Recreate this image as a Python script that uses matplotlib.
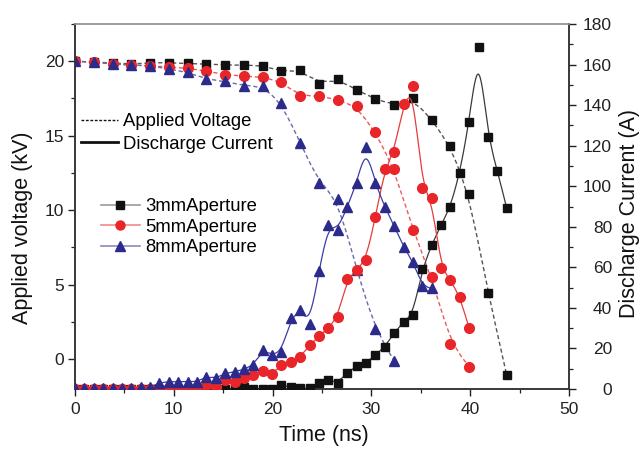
import numpy as np
import matplotlib
matplotlib.use("Agg")
import matplotlib.pyplot as plt
from matplotlib.lines import Line2D
from matplotlib.ticker import MultipleLocator

plt.rcParams['font.family'] = ['Liberation Sans', 'DejaVu Sans']

# ---------------- data ----------------
t_cur = [0.0, 0.95, 1.9, 2.85, 3.8, 4.75, 5.7, 6.65, 7.6, 8.55, 9.5, 10.45, 11.4, 12.35,
         13.3, 14.25, 15.2, 16.15, 17.1, 18.05, 19.0, 19.95, 20.9, 21.85, 22.8, 23.75,
         24.7, 25.65, 26.6, 27.55, 28.5, 29.45, 30.4, 31.35, 32.3, 33.25, 34.2, 35.15,
         36.1, 37.05, 38.0, 38.95, 39.9, 40.85, 41.8, 42.75, 43.7]
t_volt = [0.0, 1.9, 3.8, 5.7, 7.6, 9.5, 11.4, 13.3, 15.2, 17.1, 19.0, 20.9, 22.8, 24.7,
          26.6, 28.5, 30.4, 32.3, 34.2, 36.1, 38.0, 39.9, 41.8, 43.7]

cur_3mm = [0, 0, 0, 0, 0, 0, 0, 0, 0, 0, 0, 0, 0, 0.3, 0.2, 0, 0, 0.3, 0.8, 0, 0, 0, 2.0, 1.0,
           0.3, 0.3, 3.1, 4.4, 3.1, 8.0, 11.3, 13.0, 16.6, 20.9, 27.5, 33.2, 36.5, 59.2, 71.0,
           80.9, 89.9, 106.7, 131.8, 168.8, 124.4, 107.6, 89.1]
cur_5mm = [0, 0, 0, 0, 0, 0, 0, 0, 0, 0, 0.3, 0.3, 0, 1.1, 2.0, 1.0, 4.4, 3.6, 5.3, 6.9, 9.0,
           7.4, 11.8, 13.5, 15.9, 21.5, 26.1, 29.9, 35.7, 54.2, 58.7, 63.6, 84.7, 108.3, 117.0,
           140.5, 149.4, 99.0, 94.0, 59.5, 53.7, 45.5, 29.9]
cur_8mm = [0.5, 0.5, 0.5, 0.5, 0.5, 0.5, 0.5, 0.8, 0.8, 3.1, 3.6, 3.6, 3.6, 3.6, 6.1, 5.3, 7.7,
           8.5, 9.7, 11.8, 19.2, 16.8, 18.4, 34.9, 39.0, 32.0, 58.3, 80.9, 78.4, 89.9, 101.4,
           119.5, 101.4, 89.9, 80.4, 70.2, 62.8, 50.8, 49.6]

volt_3mm = [20.0, 19.95, 19.88, 19.8, 19.9, 19.9, 19.85, 19.8, 19.75, 19.75, 19.7, 19.32, 19.4,
            18.5, 18.8, 18.07, 17.47, 17.04, 17.5, 16.08, 14.3, 11.06, 4.47, -1.07]
volt_5mm = [20.0, 19.95, 19.8, 19.75, 19.7, 19.6, 19.55, 19.32, 19.1, 19.0, 18.95, 18.6, 17.65,
            17.7, 17.4, 16.98, 15.24, 12.8, 8.65, 5.54, 1.05, -0.49]
volt_8mm = [20.0, 19.95, 19.8, 19.75, 19.7, 19.48, 19.26, 18.8, 18.65, 18.36, 18.32, 17.2,
            14.52, 11.84, 10.76, 6.0, 2.0, -0.1]

labels = ['3mmAperture', '5mmAperture', '8mmAperture']


def bspline(x, y, n=16):
    P = np.column_stack([np.asarray(x, float), np.asarray(y, float)])
    P = np.vstack([P[0], P[0], P, P[-1], P[-1]])
    t = np.linspace(0, 1, n, endpoint=False)
    b0 = (1 - t) ** 3 / 6
    b1 = (3 * t ** 3 - 6 * t ** 2 + 4) / 6
    b2 = (-3 * t ** 3 + 3 * t ** 2 + 3 * t + 1) / 6
    b3 = t ** 3 / 6
    segs = []
    for k in range(len(P) - 3):
        segs.append(b0[:, None] * P[k] + b1[:, None] * P[k + 1]
                    + b2[:, None] * P[k + 2] + b3[:, None] * P[k + 3])
    segs.append(P[-1][None])
    S = np.vstack(segs)
    return S[:, 0], S[:, 1]


W, H = 642, 449
fig = plt.figure(figsize=(W / 100, H / 100), dpi=100)
ax = fig.add_axes([75 / W, 60 / H, 494 / W, 365 / H])
ax2 = ax.twinx()

mk_col = ['#111111', '#e8262a', '#2c2a8a']
solid_col = ['#3a3a3a', '#e83a3a', '#3c3ca8']
dash_col = ['#555555', '#e85a5a', '#6a6aaa']
leg_col = ['#9a9a9a', '#f08a8a', '#8a8ac4']
markers = ['s', 'o', '^']
msz = [6.0, 7.0, 7.0]

currents = [cur_3mm, cur_5mm, cur_8mm]
volts = [volt_3mm, volt_5mm, volt_8mm]

for k in range(3):
    tc = t_cur[:len(currents[k])]
    xs, ys = bspline(tc, currents[k])
    ax2.plot(xs, ys, '-', color=solid_col[k], lw=0.9, zorder=2)
    ax2.plot(tc, currents[k], linestyle='none', marker=markers[k], ms=msz[k],
             color=mk_col[k], mec=mk_col[k], zorder=3)
    tv = t_volt[:len(volts[k])]
    xs, ys = bspline(tv, volts[k])
    ax.plot(xs, ys, '--', color=dash_col[k], lw=1.0, dashes=(3, 2), zorder=2)
    ax.plot(tv, volts[k], linestyle='none', marker=markers[k], ms=msz[k],
            color=mk_col[k], mec=mk_col[k], zorder=3)

ax.set_xlim(0, 50)
ax.set_ylim(-2, 22.5)
ax2.set_ylim(0, 180)

ax.xaxis.set_major_locator(MultipleLocator(10))
ax.xaxis.set_minor_locator(MultipleLocator(5))
ax.yaxis.set_major_locator(MultipleLocator(5))
ax.yaxis.set_minor_locator(MultipleLocator(2.5))
ax2.yaxis.set_major_locator(MultipleLocator(20))
ax2.yaxis.set_minor_locator(MultipleLocator(10))

for a in (ax, ax2):
    a.tick_params(which='major', direction='out', length=5, width=1.0, labelsize=12.5,
                  colors='#222222')
    a.tick_params(which='minor', direction='out', length=3, width=0.9, colors='#222222')
    for s in a.spines.values():
        s.set_linewidth(1.1)
        s.set_color('#333333')
    a.spines['top'].set_color('#999999')
ax.tick_params(axis='y', pad=3)
ax2.tick_params(axis='y', pad=26)
ax.tick_params(axis='x', pad=4.5)

# axis labels
fig.text(324 / W, 1 - 435 / H, 'Time (ns)', fontsize=15.5, ha='center', va='center',
         color='#111111')
fig.text(23 / W, 1 - 228 / H, 'Applied voltage (kV)', fontsize=15.5, ha='center',
         va='center', rotation=90, color='#111111')
fig.text(629 / W, 1 - 213 / H, 'Discharge Current (A)', fontsize=15.5, ha='center',
         va='center', rotation=90, color='#111111')

# legend 1: line styles
h1 = [Line2D([], [], color='#111111', ls='--', lw=1.0, dashes=(2, 1.2)),
      Line2D([], [], color='#111111', ls='-', lw=2.0)]
leg1 = ax2.legend(h1, ['Applied Voltage', 'Discharge Current'], loc='upper left',
                  bbox_to_anchor=(81 / W, 1 - 113 / H), bbox_transform=fig.transFigure,
                  frameon=False, fontsize=13.3, handlelength=2.0, handletextpad=0.3,
                  labelspacing=0.3, borderpad=0, borderaxespad=0)
ax2.add_artist(leg1)

h2 = [Line2D([], [], color=leg_col[k], lw=1.2, marker=markers[k], ms=msz[k] - 0.5,
             mfc=mk_col[k], mec=mk_col[k]) for k in range(3)]
leg2 = ax2.legend(h2, labels, loc='upper left',
                  bbox_to_anchor=(101 / W, 1 - 198 / H), bbox_transform=fig.transFigure,
                  frameon=False, fontsize=13.3, handlelength=2.1, handletextpad=0.3,
                  labelspacing=0.2, borderpad=0, borderaxespad=0)

fig.canvas.draw()
for lbl in ax2.get_yticklabels():
    lbl.set_horizontalalignment('right')

fig.savefig('out.png', dpi=100)
